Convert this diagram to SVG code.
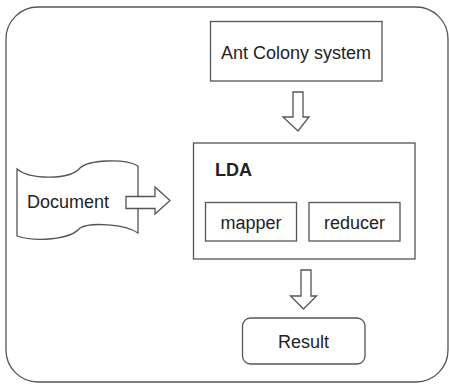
<svg xmlns="http://www.w3.org/2000/svg" width="449" height="384" viewBox="0 0 449 384">
<style>
.s{fill:#fff;stroke:#555;stroke-width:1.3}
.t{font-family:"Liberation Sans",Arial,sans-serif;font-size:18px;fill:#222}
.b{font-weight:bold}
</style>
<rect width="449" height="384" fill="#fff"/>
<g id="frame"><rect class="s" x="6" y="7" width="442" height="375" rx="32" ry="32"/></g>
<g id="ant"><rect class="s" x="210.5" y="21.5" width="171.5" height="59.5"/><text class="t" x="296" y="59" text-anchor="middle">Ant Colony system</text></g>
<g id="lda"><rect class="s" x="193.5" y="143" width="221.5" height="116"/><text class="t b" x="215" y="176">LDA</text></g>
<g id="mapper"><rect class="s" x="205.5" y="202.5" width="91" height="38.5"/><text class="t" x="251" y="228.5" text-anchor="middle">mapper</text></g>
<g id="reducer"><rect class="s" x="309" y="202.5" width="91" height="38.5"/><text class="t" x="354.5" y="228.5" text-anchor="middle">reducer</text></g>
<g id="result"><rect class="s" x="242.5" y="318" width="122.5" height="46" rx="8" ry="8"/><text class="t" x="303.5" y="348" text-anchor="middle">Result</text></g>
<g id="document"><path class="s" d="M17,169 C30,180 70,180 80,168 C88,160 125,158 138,166 L138,233 C125,224 90,222 80,228 C70,240 35,242 17,236 Z"/><text class="t" x="27" y="208">Document</text></g>
<g id="connectors">
<path class="s" d="M293,92 L303,92 L303,117 L309,117 L298,131 L283,117 L293,117 Z"/>
<path class="s" d="M301,270 L311,270 L311,296 L316.5,296 L303.5,309 L290.5,296 L301,296 Z"/>
<path class="s" d="M126,196.5 L155,196.5 L155,187 L170,200.5 L155,214 L155,208.5 L126,208.5 Z"/>
</g>
</svg>
